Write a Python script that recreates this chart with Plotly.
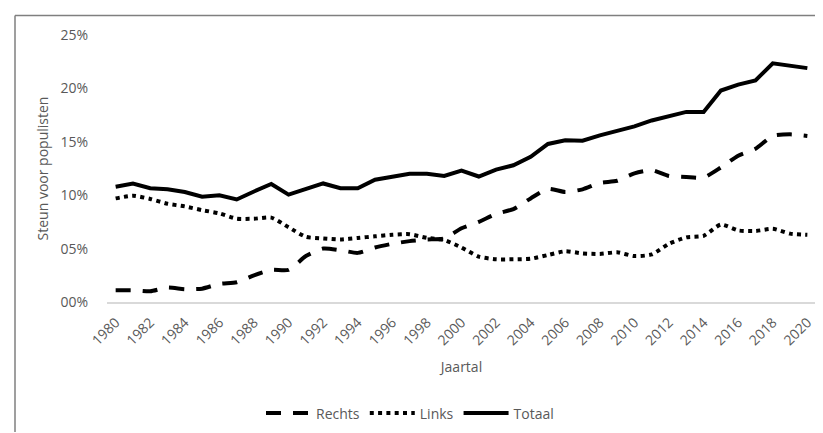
import plotly.graph_objects as go

jaren = list(range(1980, 2021))

rechts = [1.1, 1.1, 1.0, 1.35, 1.2, 1.25, 1.7, 1.85, 2.5, 3.0, 3.0, 4.3, 5.0,
          4.85, 4.6, 5.1, 5.45, 5.7, 5.85, 5.95, 6.9, 7.5, 8.25, 8.7, 9.7,
          10.6, 10.3, 10.55, 11.15, 11.35, 12.05, 12.35, 11.8, 11.7, 11.65,
          12.6, 13.7, 14.35, 15.55, 15.7, 15.55]

links = [9.7, 9.95, 9.65, 9.2, 8.95, 8.6, 8.3, 7.8, 7.8, 7.9, 7.0, 6.1, 5.95,
         5.85, 6.0, 6.15, 6.3, 6.35, 6.0, 5.8, 5.1, 4.25, 4.0, 4.0, 4.05,
         4.4, 4.75, 4.55, 4.5, 4.65, 4.3, 4.45, 5.45, 6.05, 6.2, 7.25, 6.7,
         6.65, 6.85, 6.4, 6.3]

totaal = [10.8, 11.1, 10.65, 10.55, 10.3, 9.85, 10.0, 9.6, 10.35, 11.05, 10.05,
          10.55, 11.1, 10.65, 10.65, 11.45, 11.7, 12.0, 12.0, 11.8, 12.3, 11.75,
          12.4, 12.8, 13.6, 14.8, 15.15, 15.1, 15.6, 16.0, 16.45, 17.0, 17.4,
          17.8, 17.8, 19.8, 20.35, 20.75, 22.35, 22.1, 21.9]

y_tickvals = [0, 5, 10, 15, 20, 25]
y_ticktext = ["00%", "05%", "10%", "15%", "20%", "25%"]
x_tickvals = list(range(1980, 2021, 2))
x_ticktext = [str(j) for j in x_tickvals]

W, H = 823, 433
ML, MR, MT, MB = 99, 15, 27, 133
PW, PH = W - ML - MR, H - MT - MB

def px_x(p):
    return (p - ML) / PW

def px_y(p):
    return (H - MB - p) / PH

tekst = "#595959"
fnt = "Open Sans"

fig = go.Figure()
fig.add_trace(go.Scatter(x=jaren, y=rechts, name="Rechts", mode="lines",
                         line=dict(color="black", width=4, dash="15px,12px",
                                   shape="spline", smoothing=0.6)))
fig.add_trace(go.Scatter(x=jaren, y=links, name="Links", mode="lines",
                         line=dict(color="black", width=4, dash="4px,4.3px",
                                   shape="spline", smoothing=0.6)))
fig.add_trace(go.Scatter(x=jaren, y=totaal, name="Totaal", mode="lines",
                         line=dict(color="black", width=4)))

fig.update_layout(
    width=W, height=H,
    margin=dict(l=ML, r=MR, t=MT, b=MB, pad=0),
    paper_bgcolor="white", plot_bgcolor="white",
    font=dict(family=fnt, size=14, color=tekst),
    showlegend=True,
    legend=dict(orientation="h", x=px_x(253), xanchor="left",
                y=px_y(414), yanchor="middle", itemwidth=45,
                font=dict(family=fnt, size=14, color=tekst),
                traceorder="normal", bgcolor="rgba(0,0,0,0)"),
    xaxis=dict(range=[1979.5, 2020.5], tickmode="array",
               tickvals=x_tickvals, ticktext=x_ticktext, tickangle=-45,
               showgrid=False, zeroline=False, showline=True,
               linecolor="#d9d9d9", linewidth=1.5, ticks="",
               ticklabelstandoff=5,
               tickfont=dict(family=fnt, size=14, color=tekst),
               title=dict(text="Jaartal", standoff=14,
                          font=dict(family=fnt, size=14, color=tekst))),
    yaxis=dict(range=[0, 25], tickmode="array", tickvals=y_tickvals,
               ticktext=y_ticktext, showgrid=False, zeroline=False,
               showline=False, ticks="", ticklabelstandoff=18,
               tickfont=dict(family=fnt, size=14, color=tekst),
               title=dict(text="Steun voor populisten", standoff=8,
                          font=dict(family=fnt, size=14, color=tekst))),
    shapes=[
        dict(type="line", xref="paper", yref="paper",
             x0=px_x(7), x1=px_x(W), y0=px_y(7), y1=px_y(7),
             line=dict(color="#7f7f7f", width=1.5)),
        dict(type="line", xref="paper", yref="paper",
             x0=px_x(7), x1=px_x(7), y0=px_y(7), y1=px_y(H),
             line=dict(color="#7f7f7f", width=1.5)),
    ],
)

fig.write_html("out.html")
